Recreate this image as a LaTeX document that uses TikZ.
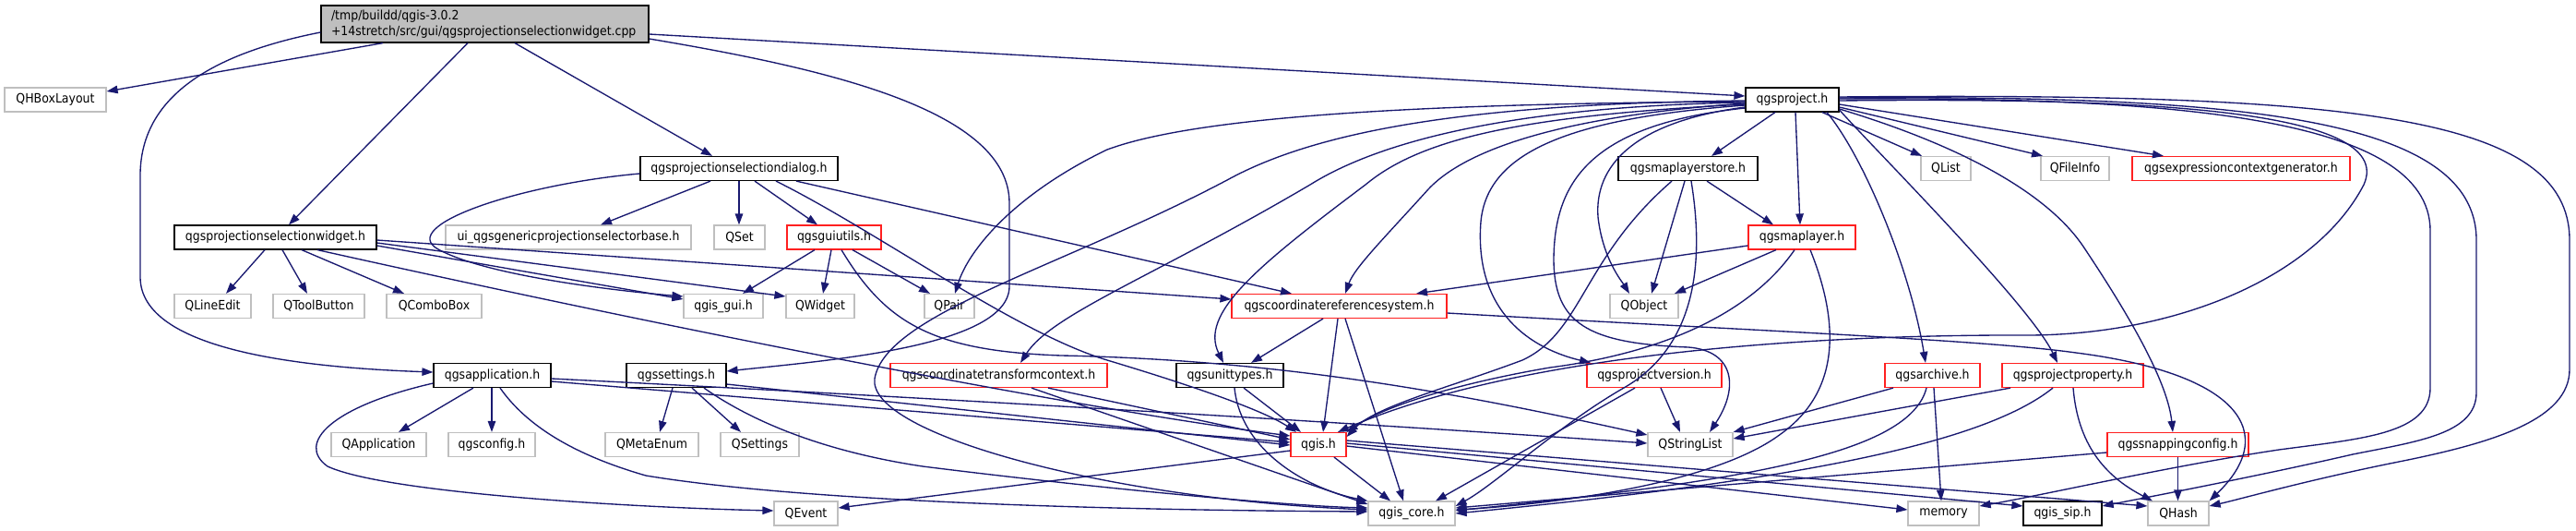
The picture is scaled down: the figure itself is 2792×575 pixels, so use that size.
\documentclass[tikz,border=0pt]{standalone}
\usepackage{fontspec}
\setmainfont{DejaVu Sans}[FakeStretch=0.9]
\usetikzlibrary{arrows.meta}
\definecolor{edgec}{HTML}{191970}
\definecolor{greyb}{HTML}{BFBFBF}
\definecolor{redb}{HTML}{FF2020}
\newcommand\dgfont{\fontsize{13.9pt}{16.5pt}\selectfont}
\begin{document}
\begin{tikzpicture}[x=1pt,y=-1pt,
  base/.style={draw, rectangle, inner sep=0pt, minimum height=26pt, font=\dgfont, text=black, line width=1.2pt, fill=white},
  gr/.style={base, draw=greyb},
  bl/.style={base, draw=black},
  rd/.style={base, draw=redb},
  dep/.style={draw=edgec, line width=1.35pt, -{Triangle[length=12pt,width=8.5pt]}}]
\useasboundingbox[fill=white] (0,0) rectangle (2792,575);
% nodes
\node[bl, fill=greyb, minimum height=40pt, align=left, text width=333pt, inner xsep=11pt] (main) at (525.5,26) {/tmp/buildd/qgis-3.0.2\\+14stretch/src/gui/qgsprojectionselectionwidget.cpp};
\node[gr, minimum width=110pt] (QHB) at (60,108) {QHBoxLayout};
\node[bl, minimum width=101pt] (proj) at (1942.5,108) {qgsproject.h};
\node[bl, minimum width=214pt] (dialog) at (801,182.5) {qgsprojectionselectiondialog.h};
\node[bl, minimum width=151pt] (store) at (1829.5,182.5) {qgsmaplayerstore.h};
\node[gr, minimum width=54pt] (QList) at (2109,182.5) {QList};
\node[gr, minimum width=74pt] (QFileInfo) at (2249,182.5) {QFileInfo};
\node[rd, minimum width=236pt] (expr) at (2429,182.5) {qgsexpressioncontextgenerator.h};
\node[bl, minimum width=219pt] (widget) at (298.5,257) {qgsprojectionselectionwidget.h};
\node[gr, minimum width=266pt] (ui) at (616,257) {ui\_qgsgenericprojectionselectorbase.h};
\node[gr, minimum width=55pt] (QSet) at (801.5,257) {QSet};
\node[rd, minimum width=102pt] (guiutils) at (904,257) {qgsguiutils.h};
\node[rd, minimum width=116pt] (maplayer) at (1953,257) {qgsmaplayer.h};
\node[gr, minimum width=83pt] (QLineEdit) at (230.5,331.5) {QLineEdit};
\node[gr, minimum width=99pt] (QToolButton) at (345.5,331.5) {QToolButton};
\node[gr, minimum width=103pt] (QComboBox) at (470.5,331.5) {QComboBox};
\node[gr, minimum width=86pt] (qgisgui) at (784,331.5) {qgis\_gui.h};
\node[gr, minimum width=74pt] (QWidget) at (889,331.5) {QWidget};
\node[gr, minimum width=54pt] (QPair) at (1029,331.5) {QPair};
\node[rd, minimum width=233pt] (crs) at (1451.5,331.5) {qgscoordinatereferencesystem.h};
\node[gr, minimum width=74pt] (QObject) at (1782,331.5) {QObject};
\node[bl, minimum width=127pt] (app) at (533.5,406.5) {qgsapplication.h};
\node[bl, minimum width=108pt] (settings) at (733,406.5) {qgssettings.h};
\node[rd, minimum width=235pt] (ctc) at (1082.5,406.5) {qgscoordinatetransformcontext.h};
\node[bl, minimum width=116pt] (units) at (1333,406.5) {qgsunittypes.h};
\node[rd, minimum width=146pt] (pver) at (1793,406.5) {qgsprojectversion.h};
\node[rd, minimum width=103pt] (archive) at (2094.5,406.5) {qgsarchive.h};
\node[rd, minimum width=153pt] (pprop) at (2246.5,406.5) {qgsprojectproperty.h};
\node[gr, minimum width=103pt] (QApplication) at (410.5,481.5) {QApplication};
\node[gr, minimum width=94pt] (qgsconfig) at (533,481.5) {qgsconfig.h};
\node[gr, minimum width=101pt] (QMetaEnum) at (706.5,481.5) {QMetaEnum};
\node[gr, minimum width=85pt] (QSettings) at (823.5,481.5) {QSettings};
\node[rd, minimum width=60pt] (qgis) at (1429,481.5) {qgis.h};
\node[gr, minimum width=92pt] (QStringList) at (1832,481.5) {QStringList};
\node[rd, minimum width=153pt] (snap) at (2360.5,481.5) {qgssnappingconfig.h};
\node[gr, minimum width=69pt] (QEvent) at (873.5,556) {QEvent};
\node[gr, minimum width=94pt] (core) at (1530,556) {qgis\_core.h};
\node[gr, minimum width=77pt] (memory) at (2106.5,556) {memory};
\node[bl, minimum width=85pt] (sip) at (2235.5,556) {qgis\_sip.h};
\node[gr, minimum width=66pt] (QHash) at (2361,556) {QHash};
% main
\draw[dep] (main.south -| 415,0) -- (QHB.east |- 0,99);
\draw[dep] (main.south -| 507,0) -- (widget.north -| 313,0);
\draw[dep] (main.south -| 558,0) -- (dialog.north -| 772,0);
\draw[dep] (main.east |- 0,37) -- (proj.west |- 0,104);
\draw[dep] (main.west |- 0,35) .. controls (220,60) and (152,110) .. (152,190) -- (152,300) .. controls (152,380) and (330,398) .. (app.west |- 0,403);
\draw[dep] (main.east |- 0,42) .. controls (900,75) and (1094,120) .. (1094,220) -- (1094,310) .. controls (1094,375) and (900,390) .. (settings.east |- 0,402);
% widget
\draw[dep] (widget.south -| 287,0) -- (QLineEdit.north -| 245,0);
\draw[dep] (widget.south -| 306,0) -- (QToolButton.north -| 333,0);
\draw[dep] (widget.south -| 327,0) -- (QComboBox.north -| 438,0);
\draw[dep] (widget.east |- 0,266) -- (qgisgui.west |- 0,324);
\draw[dep] (widget.east |- 0,263) -- (QWidget.west |- 0,321);
\draw[dep] (widget.east |- 0,260) -- (crs.west |- 0,324);
\draw[dep] (widget.south -| 344,0) .. controls (700,350) and (1150,440) .. (qgis.west |- 0,472);
% dialog
\draw[dep] (dialog.south -| 770,0) -- (ui.north -| 651,0);
\draw[dep] (dialog.south -| 801,0) -- (QSet.north -| 801,0);
\draw[dep] (dialog.south -| 818,0) -- (guiutils.north -| 886,0);
\draw[dep] (dialog.west |- 0,188) .. controls (560,200) and (430,245) .. (475,270) .. controls (530,300) and (680,316) .. (qgisgui.west |- 0,321);
\draw[dep] (dialog.south -| 863,0) -- (crs.north -| 1400,0);
\draw[dep] (dialog.south -| 841,0) .. controls (950,250) and (1100,360) .. (1200,390) .. controls (1300,420) and (1370,445) .. (qgis.north -| 1405,0);
% guiutils
\draw[dep] (guiutils.south -| 883,0) -- (qgisgui.north -| 805,0);
\draw[dep] (guiutils.south -| 901,0) -- (QWidget.north -| 892,0);
\draw[dep] (guiutils.south -| 924,0) -- (QPair.north -| 1008,0);
\draw[dep] (guiutils.south -| 912,0) .. controls (960,350) and (1010,380) .. (1150,385) .. controls (1400,390) and (1600,430) .. (QStringList.west |- 0,471);
% qgsproject
\draw[dep] (proj.south -| 1924,0) -- (store.north -| 1855,0);
\draw[dep] (proj.south -| 1975,0) -- (QList.north -| 2083,0);
\draw[dep] (proj.east |- 0,116) -- (QFileInfo.north -| 2214,0);
\draw[dep] (proj.east |- 0,113) -- (expr.north -| 2345,0);
\draw[dep] (proj.south -| 1946,0) -- (maplayer.north -| 1951,0);
\draw[dep] (proj.west |- 0,116) .. controls (1770,132) and (1728,180) .. (1732,235) .. controls (1737,280) and (1758,305) .. (QObject.north -| 1766,0);
\draw[dep] (proj.west |- 0,110) .. controls (1550,112) and (1300,125) .. (1200,162) .. controls (1100,210) and (1050,270) .. (QPair.north -| 1035,0);
\draw[dep] (proj.west |- 0,112) .. controls (1700,125) and (1590,160) .. (1548,205) .. controls (1500,258) and (1468,290) .. (crs.north -| 1458,0);
\draw[dep] (proj.west |- 0,111) .. controls (1650,115) and (1500,150) .. (1420,200) .. controls (1250,300) and (1140,340) .. (ctc.north -| 1106,0);
\draw[dep] (proj.west |- 0,113) .. controls (1650,125) and (1540,150) .. (1480,200) .. controls (1360,290) and (1300,340) .. (units.north -| 1326,0);
\draw[dep] (proj.west |- 0,109) .. controls (1600,112) and (1430,140) .. (1330,195) .. controls (1150,290) and (960,340) .. (948,410) .. controls (940,470) and (1200,540) .. (core.west |- 0,552);
\draw[dep] (proj.west |- 0,114) .. controls (1700,128) and (1612,165) .. (1605,240) .. controls (1598,330) and (1650,375) .. (pver.north -| 1724,0);
\draw[dep] (proj.west |- 0,117) .. controls (1720,135) and (1685,200) .. (1684,280) .. controls (1684,350) and (1720,372) .. (1830,376) .. controls (1880,380) and (1885,420) .. (QStringList.north -| 1853,0);
\draw[dep] (proj.east |- 0,109) .. controls (2300,106) and (2600,115) .. (2562,200) .. controls (2510,300) and (2360,362) .. (2200,363) .. controls (1950,362) and (1640,385) .. (qgis.north -| 1450,0);
\draw[dep] (proj.south -| 1980,0) .. controls (2020,170) and (2070,290) .. (archive.north -| 2087,0);
\draw[dep] (proj.east |- 0,119) .. controls (2030,160) and (2200,330) .. (pprop.north -| 2230,0);
\draw[dep] (proj.east |- 0,118) .. controls (2100,150) and (2215,200) .. (2260,270) .. controls (2320,360) and (2350,420) .. (snap.north -| 2355,0);
\draw[dep] (proj.east |- 0,107) .. controls (2350,105) and (2634,125) .. (2634,250) -- (2634,420) .. controls (2634,470) and (2560,475) .. (2470,487) .. controls (2350,505) and (2220,535) .. (memory.east |- 0,548);
\draw[dep] (proj.east |- 0,106) .. controls (2420,103) and (2684,125) .. (2684,260) -- (2684,425) .. controls (2684,470) and (2620,478) .. (2550,492) .. controls (2450,515) and (2330,538) .. (sip.east |- 0,548);
\draw[dep] (proj.east |- 0,105) .. controls (2550,100) and (2785,125) .. (2785,260) -- (2785,400) .. controls (2785,455) and (2700,480) .. (2600,500) .. controls (2500,520) and (2430,540) .. (QHash.east |- 0,548);
% maplayerstore
\draw[dep] (store.south -| 1850,0) -- (maplayer.north -| 1922,0);
\draw[dep] (store.south -| 1826,0) -- (QObject.north -| 1790,0);
\draw[dep] (store.south -| 1812,0) .. controls (1715,280) and (1715,360) .. (1650,390) .. controls (1570,420) and (1490,440) .. (qgis.east |- 0,473);
\draw[dep] (store.south -| 1833,0) .. controls (1850,300) and (1830,380) .. (1760,420) .. controls (1690,460) and (1620,525) .. (core.east |- 0,548);
% maplayer
\draw[dep] (maplayer.west |- 0,266) -- (crs.north -| 1535,0);
\draw[dep] (maplayer.south -| 1925,0) -- (QObject.north -| 1815,0);
\draw[dep] (maplayer.south -| 1945,0) .. controls (1890,350) and (1780,385) .. (1680,398) .. controls (1580,415) and (1500,440) .. (qgis.north east);
\draw[dep] (maplayer.south -| 1962,0) .. controls (1990,340) and (2000,420) .. (1930,470) .. controls (1850,530) and (1650,548) .. (core.east |- 0,552);
% crs
\draw[dep] (crs.south -| 1434,0) -- (units.north -| 1356,0);
\draw[dep] (crs.south -| 1450,0) -- (qgis.north -| 1434,0);
\draw[dep] (crs.south -| 1458,0) -- (core.north -| 1521,0);
\draw[dep] (crs.east |- 0,339) .. controls (1900,358) and (2150,368) .. (2250,382) .. controls (2430,405) and (2470,470) .. (QHash.north east);
% ctc
\draw[dep] (ctc.south -| 1136,0) -- (qgis.west |- 0,476);
\draw[dep] (ctc.south -| 1118,0) -- (core.west |- 0,546);
% unittypes
\draw[dep] (units.south -| 1348,0) -- (qgis.north -| 1410,0);
\draw[dep] (units.south -| 1338,0) .. controls (1345,490) and (1420,530) .. (core.north west);
% projectversion
\draw[dep] (pver.south -| 1800,0) -- (QStringList.north -| 1821,0);
\draw[dep] (pver.south -| 1772,0) -- (core.north -| 1556,0);
% archive
\draw[dep] (archive.south -| 2052,0) -- (QStringList.north east);
\draw[dep] (archive.south -| 2096,0) -- (memory.north -| 2104,0);
\draw[dep] (archive.south -| 2088,0) .. controls (2070,490) and (1900,520) .. (core.east |- 0,553);
% projectproperty
\draw[dep] (pprop.south -| 2179,0) -- (QStringList.east |- 0,475);
\draw[dep] (pprop.south -| 2225,0) .. controls (2150,480) and (1950,520) .. (core.east |- 0,556);
\draw[dep] (pprop.south -| 2247,0) .. controls (2252,480) and (2280,515) .. (QHash.north -| 2333,0);
% snapping
\draw[dep] (snap.west |- 0,490) -- (core.east |- 0,550);
\draw[dep] (snap.south) -- (QHash.north -| 2360.5,0);
% qgis.h
\draw[dep] (qgis.west |- 0,488) -- (QEvent.east |- 0,550);
\draw[dep] (qgis.south -| 1446,0) -- (core.north -| 1507,0);
\draw[dep] (qgis.east |- 0,483) -- (memory.west |- 0,552);
\draw[dep] (qgis.east |- 0,480) -- (sip.west |- 0,548);
\draw[dep] (qgis.east |- 0,477) -- (QHash.west |- 0,548);
% qgsapplication
\draw[dep] (app.south -| 513,0) -- (QApplication.north -| 432,0);
\draw[dep] (app.south -| 533,0) -- (qgsconfig.north -| 533,0);
\draw[dep] (app.west |- 0,415) .. controls (360,440) and (320,480) .. (355,505) .. controls (420,535) and (700,550) .. (QEvent.west |- 0,553);
\draw[dep] (app.south -| 542,0) .. controls (570,460) and (620,492) .. (700,515) .. controls (900,548) and (1300,553) .. (core.west |- 0,554);
\draw[dep] (app.east |- 0,413) -- (qgis.west |- 0,479);
\draw[dep] (app.east |- 0,410) .. controls (1000,430) and (1500,460) .. (QStringList.west |- 0,480);
% qgssettings
\draw[dep] (settings.south -| 729,0) -- (QMetaEnum.north -| 715,0);
\draw[dep] (settings.south -| 750,0) -- (QSettings.north -| 803,0);
\draw[dep] (settings.east |- 0,416) -- (qgis.west |- 0,482);
\draw[dep] (settings.south -| 763,0) .. controls (820,460) and (900,490) .. (1000,505) .. controls (1200,530) and (1400,548) .. (core.west |- 0,550);
\end{tikzpicture}
\end{document}
